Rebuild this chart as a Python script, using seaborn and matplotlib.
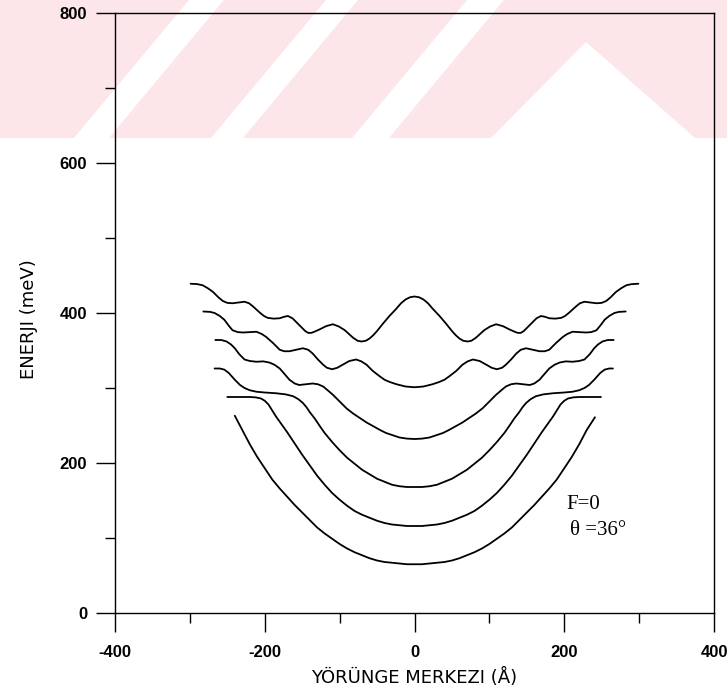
import numpy as np
import pandas as pd
import matplotlib
matplotlib.use("Agg")
import matplotlib.pyplot as plt
import seaborn as sns
from matplotlib.ticker import MultipleLocator

# enerji seviyeleri (meV) - yorunge merkezine (A) gore
x1 = [-240, -230, -220, -210, -200, -190, -180, -170, -160, -150, -140, -130, -120, -110, -100, -90,
      -80, -70, -60, -50, -40, -30, -20, -10, 0, 10, 20, 30, 40, 50, 60, 70, 80, 90, 100, 110, 120,
      130, 140, 150, 160, 170, 180, 190, 200, 210, 220, 230, 241]
e1 = [263, 244, 225, 208, 193, 178, 166, 155, 144, 134, 124, 114, 106, 99, 92, 86,
      81, 77, 73, 70, 68, 67, 66, 65, 65, 65, 66, 67, 68, 70, 73, 77, 81, 86, 92, 99, 106,
      114, 124, 134, 144, 155, 166, 178, 193, 208, 225, 244, 261]

x2 = [-250, -240, -230, -220, -212, -205, -200, -195, -190, -185, -180, -170, -160, -150, -140, -130,
      -120, -110, -100, -90, -80, -70, -60, -50, -40, -30, -20, -10, 0,
      10, 20, 30, 40, 50, 60, 70, 80, 90, 100, 110, 120, 130, 140, 150, 160, 170, 180, 185, 190,
      195, 200, 205, 212, 220, 230, 240, 249]
e2 = [288, 288, 288, 288, 287.5, 286, 283, 278, 270, 262, 255, 241, 226, 211, 197, 183,
      171, 160, 151, 143, 136, 131, 127, 123, 120, 118, 117, 116, 116,
      116, 117, 118, 120, 123, 127, 131, 136, 143, 151, 160, 171, 183, 197, 211, 226, 241, 255, 262, 270,
      278, 283, 286, 287.5, 288, 288, 288, 288]

x3 = [-267, -260, -254, -248, -240, -233, -227, -220, -211, -200, -185, -172, -162, -155, -149, -144,
      -140, -133, -127, -120, -110, -100, -90, -80, -70, -60, -50, -40, -30, -20, -10, 0,
      10, 20, 30, 40, 50, 60, 70, 80, 90, 100, 110, 120, 127, 133, 140, 144, 149, 155, 162, 172,
      185, 200, 211, 220, 227, 233, 240, 248, 254, 260, 265]
e3 = [326, 326, 324.5, 320, 311, 304, 300, 297, 295, 294, 293, 291.5, 289, 285, 280, 274,
      268, 259, 250, 240, 228, 217, 207, 199, 191, 185, 179, 175, 171, 169, 168, 168,
      168, 169, 171, 175, 179, 185, 191, 199, 207, 217, 228, 240, 250, 259, 268, 274, 280, 285, 289, 291.5,
      293, 294, 295, 297, 300, 304, 311, 320, 324.5, 326, 326]

x4 = [-266, -258, -251, -245, -240, -234, -227, -220, -211, -202, -194, -187, -180, -173, -167, -160,
      -154, -145, -136, -129, -122, -116, -109, -100, -91, -82, -73, -64, -55, -46, -38, -29, -20, -10, 0,
      10, 20, 29, 38, 46, 55, 64, 73, 82, 91, 100, 109, 116, 122, 129, 136, 145, 154, 160, 167,
      173, 180, 187, 194, 202, 211, 220, 227, 234, 240, 245, 251, 258, 266]
e4 = [364, 364, 362, 358, 353, 345, 338, 336, 335, 335.5, 334, 331, 326, 318, 311, 306,
      304, 305, 306, 305, 302, 297, 291, 282, 273, 266, 260, 254, 249, 244, 240, 237, 234, 232.5, 232,
      232.5, 234, 237, 240, 244, 249, 254, 260, 266, 273, 282, 291, 297, 302, 305, 306, 305, 304, 306, 311,
      318, 326, 331, 334, 335.5, 335, 336, 338, 345, 353, 358, 362, 364, 364]

x5 = [-282, -273, -267, -260, -254, -248, -243, -236, -229, -220, -211, -204, -198, -189, -180, -174,
      -167, -158, -149, -142, -136, -129, -122, -117, -110, -103, -96, -87, -78, -71, -64, -56, -47,
      -40, -33, -24, -12, 0,
      12, 24, 33, 40, 47, 56, 64, 71, 78, 87, 96, 103, 110, 117, 122, 129, 136, 142, 149, 158,
      167, 174, 180, 189, 198, 204, 211, 220, 229, 236, 243, 248, 254, 260, 267, 273, 282]
e5 = [402, 401.5, 400, 396, 391, 383, 377, 374.5, 374, 374.5, 375, 372, 368, 360, 351, 349,
      349, 351, 353, 351, 346, 338, 331, 327, 325, 327, 331, 336, 338, 335.5, 331, 323, 316,
      311, 308, 305, 302, 301,
      302, 305, 308, 311, 316, 323, 331, 335.5, 338, 336, 331, 327, 325, 327, 331, 338, 346, 351, 353, 351,
      349, 349, 351, 360, 368, 372, 375, 374.5, 374, 374.5, 377, 383, 391, 396, 400, 401.5, 402]

x6 = [-299, -290, -283, -276, -269, -262, -256, -250, -243, -235, -227, -221, -216, -211, -206, -201,
      -196, -188, -180, -174, -169, -163, -158, -154, -150, -146, -142, -138, -135, -127, -118, -109,
      -101, -93, -87, -82, -76, -71, -65, -60, -55, -50, -42, -33, -24, -18, -12, -6, 0,
      6, 12, 18, 24, 33, 42, 50, 55, 60, 65, 71, 76, 82, 87, 93, 101, 109, 118, 127, 135,
      138, 142, 146, 150, 154, 158, 163, 169, 174, 180, 188, 196, 201, 206, 211, 216, 221, 227,
      235, 243, 250, 256, 262, 269, 276, 283, 290, 299]
e6 = [439, 438.5, 437, 433, 428, 421, 416, 413.5, 413, 414, 415, 413, 409, 404.5, 400, 396,
      393.5, 392.5, 393, 395, 396, 393, 388, 384, 380, 376, 373.5, 373.5, 374.5, 378, 382.5, 385,
      382, 377, 371.5, 367, 363, 362, 363, 366, 370.5, 376, 386, 396.5, 406, 413, 418, 421, 422,
      421, 418, 413, 406, 396.5, 386, 376, 370.5, 366, 363, 362, 363, 367, 371.5, 377, 382, 385, 382.5, 378, 374.5,
      373.5, 373.5, 376, 380, 384, 388, 393, 396, 395, 393, 392.5, 393.5, 396, 400, 404.5, 409, 413, 415,
      414, 413, 413.5, 416, 421, 428, 433, 437, 438.5, 439]

levels = [(x1, e1), (x2, e2), (x3, e3), (x4, e4), (x5, e5), (x6, e6)]

x_ticks = [-400, -200, 0, 200, 400]
y_ticks = [0, 200, 400, 600, 800]

# taranmis sayfadaki pembe filigran (piksel, ustten)
watermark = [
    [(0, 0), (189, 0), (74, 138), (0, 138)],
    [(224, 0), (326, 0), (211, 138), (109, 138)],
    [(358, 0), (467, 0), (352, 138), (243, 138)],
    [(504, 0), (727, 0), (727, 138), (695, 138), (586, 42), (491, 138), (389, 138)],
]

rows = []
for i, (xs, es) in enumerate(levels):
    for xv, ev in zip(xs, es):
        rows.append({"level": i, "x": xv, "E": ev})
df = pd.DataFrame(rows)

sns.set_style("ticks")
plt.rcParams["font.family"] = ["DejaVu Sans"]
plt.rcParams["axes.unicode_minus"] = False
plt.rcParams["text.color"] = "black"
plt.rcParams["axes.labelcolor"] = "black"

fig = plt.figure(figsize=(7.27, 6.94), dpi=100)

bg = fig.add_axes([0, 0, 1, 1], zorder=0)
bg.set_xlim(0, 727)
bg.set_ylim(694, 0)
bg.axis("off")
for poly in watermark:
    px, py = zip(*poly)
    bg.fill(px, py, color="#fde6ea", lw=0)

ax = fig.add_axes([115 / 727, 1 - 613 / 694, 599 / 727, 600 / 694], zorder=1)
ax.patch.set_alpha(0)

sns.lineplot(data=df, x="x", y="E", units="level", estimator=None, sort=False,
             color="black", lw=1.3, ax=ax)

ax.set_xlim(-400, 400)
ax.set_ylim(0, 800)
ax.set_xticks(x_ticks)
ax.set_yticks(y_ticks)
ax.xaxis.set_minor_locator(MultipleLocator(100))
ax.yaxis.set_minor_locator(MultipleLocator(100))
ax.tick_params(which="major", direction="out", length=14, width=1, colors="black")
ax.tick_params(which="minor", direction="out", length=7, width=1, colors="black")
ax.tick_params(axis="x", which="major", pad=9)
ax.tick_params(axis="y", which="major", pad=6)
for lab in ax.get_xticklabels() + ax.get_yticklabels():
    lab.set_fontweight("bold")
    lab.set_fontsize(12)
    lab.set_family(["Liberation Sans", "DejaVu Sans"])
for sp in ax.spines.values():
    sp.set_linewidth(1.0)
    sp.set_color("black")

ax.set_xlabel("YÖRÜNGE MERKEZI (Å)", fontsize=13)
ax.set_ylabel("ENERJI (meV)", fontsize=13)
ax.xaxis.set_label_coords(0.5, -0.092)
ax.yaxis.set_label_coords(-0.128, 0.49)

ax.text(203, 139, "F=0", fontsize=15, family=["Liberation Serif", "DejaVu Serif"],
        ha="left", va="baseline")
ax.text(208, 104, "θ =36°", fontsize=15, family=["Liberation Serif", "DejaVu Serif"],
        ha="left", va="baseline")

fig.savefig("out.png", dpi=100)
